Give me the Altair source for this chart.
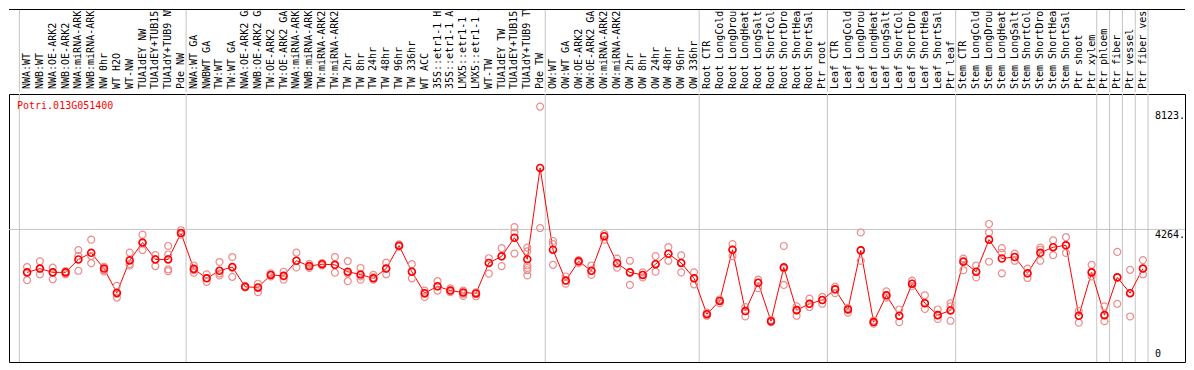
import altair as alt
import pandas as pd

gene = "Potri.013G051400"

categories = [
    "NWA:WT", "NWB:WT", "NWA:OE-ARK2", "NWB:OE-ARK2", "NWA:miRNA-ARK2", "NWB:miRNA-ARK2",
    "NW 0hr", "WT H2O", "WT-NW", "TUA1dEY NW", "TUA1dEY+TUB15 NW", "TUA1dY+TUB9 NW", "Pde NW",
    "NWA:WT GA", "NWBWT GA", "TW:WT", "TW:WT GA", "NWA:OE-ARK2 GA", "NWB:OE-ARK2 GA",
    "TW:OE-ARK2", "TW:OE-ARK2 GA", "NWA:miRNA-ARK2", "NWB:miRNA-ARK2", "TW:miRNA-ARK2",
    "TW:miRNA-ARK2", "TW 2hr", "TW 8hr", "TW 24hr", "TW 48hr", "TW 96hr", "TW 336hr",
    "WT ACC", "35S::etr1-1 H2O", "35S::etr1-1 ACC", "LMX5::etr1-1 H2O", "LMX5::etr1-1 ACC",
    "WT-TW", "TUA1dEY TW", "TUA1dEY+TUB15 TW", "TUA1dY+TUB9 TW", "Pde TW",
    "OW:WT", "OW:WT GA", "OW:OE-ARK2", "OW:OE-ARK2 GA", "OW:miRNA-ARK2", "OW:miRNA-ARK2",
    "OW 2hr", "OW 8hr", "OW 24hr", "OW 48hr", "OW 96hr", "OW 336hr",
    "Root CTR", "Root LongCold", "Root LongDrought", "Root LongHeat", "Root LongSalt",
    "Root ShortCold", "Root ShortDrought", "Root ShortHeat", "Root ShortSalt", "Ptr root",
    "Leaf CTR", "Leaf LongCold", "Leaf LongDrought", "Leaf LongHeat", "Leaf LongSalt",
    "Leaf ShortCold", "Leaf ShortDrought", "Leaf ShortHeat", "Leaf ShortSalt", "Ptr leaf",
    "Stem CTR", "Stem LongCold", "Stem LongDrought", "Stem LongHeat", "Stem LongSalt",
    "Stem ShortCold", "Stem ShortDrought", "Stem ShortHeat", "Stem ShortSalt", "Ptr shoot",
    "Ptr xylem", "Ptr phloem", "Ptr fiber", "Ptr vessel", "Ptr fiber vessel",
]

means = [
    2873, 2995, 2873, 2873, 3291, 3505, 2995, 2209, 3261, 3841, 3291, 3291, 4147,
    2986, 2680, 2925, 3047, 2405, 2384, 2790, 2760, 3249, 3077, 3138, 3117, 2894,
    2802, 2680, 2995, 3738, 2894, 2200, 2423, 2283, 2222, 2191, 3178, 3392, 3994,
    3300, 6256,
    3606, 2607, 3230, 2925, 4043, 3169, 2873, 2790, 3138, 3475, 3178, 2680,
    1519, 1947, 3606, 1620, 2536, 1293, 3035, 1650, 1855, 1977,
    2323, 1672, 3585, 1262, 2130, 1467, 2506, 1873, 1488, 1641,
    3218, 2894, 3933, 3322, 3371, 2842, 3505, 3689, 3750, 1467,
    2873, 1488, 2711, 2200, 2995,
]

replicates = [
    [3047, 2873, 2619], [3230, 2995, 2812], [3025, 2873, 2650], [2912, 2873, 2812],
    [3597, 3401, 2925], [3933, 3401, 3169], [3056, 2943, 2903], [2436, 2179, 2057],
    [3514, 3148, 3096], [4095, 3811, 3597], [3432, 3300, 3077],
    [3728, 3453, 3300, 2973, 2912], [4239, 4147, 4095],
    [3096, 2943, 2863], [2812, 2689, 2567], [3209, 2842, 2772], [3371, 3016, 2729],
    [2436, 2405, 2384], [2506, 2362, 2231], [2842, 2790, 2741], [2894, 2741, 2637],
    [3514, 3249, 3035], [3148, 3077, 3016], [3178, 3138, 3096], [3371, 3117, 2863],
    [3239, 2842, 2588], [3016, 2741, 2637], [2790, 2711, 2637], [3187, 2995, 2812],
    [3780, 3707], [3138, 2894, 2680], [2283, 2179, 2078], [2588, 2423, 2283],
    [2353, 2283, 2231], [2283, 2179, 2109], [2231, 2179, 2099], [3331, 3178, 2833],
    [3658, 3392, 3077], [4340, 4165, 3994, 3484],
    [3676, 3554, 3096, 3016, 2943, 2772], [8242, 4309],
    [3890, 3789, 3117], [2741, 2607, 2506], [3270, 3230, 3178], [3096, 2925, 2790],
    [4116, 4043, 3933], [3322, 3169, 3025], [3249, 2873, 2466], [2873, 2790, 2711],
    [3401, 3138, 2894], [3689, 3475, 3249], [3423, 3178, 2873], [2873, 2680, 2485],
    [1568, 1519, 1467], [1996, 1947, 1873], [3789, 3606, 3401], [1751, 1620, 1445],
    [2637, 2536, 2362], [1335, 1293, 1262], [3728, 2995, 2466], [1772, 1650, 1467],
    [2026, 1855, 1751], [2078, 1977, 1855],
    [2405, 2323, 2200], [1721, 1672, 1568], [4165, 3585, 3249], [1314, 1262, 1213],
    [2261, 2130, 2057], [1672, 1467, 1262], [2607, 2506, 2436], [2130, 1873, 1690],
    [1672, 1488, 1366], [1873, 1772, 1305],
    [3322, 3249, 2943], [3096, 2894, 2711], [4440, 4165, 3218], [3658, 3505, 2842],
    [3484, 3371, 3249], [2995, 2842, 2689], [3676, 3606, 3249], [3912, 3689, 3432],
    [4013, 3750, 3505], [1620, 1467, 1244],
    [3117, 2873, 2741], [1772, 1488, 1293], [3536, 2711, 1855], [2955, 2200, 1445],
    [3270, 2995, 2812],
]

# group boundaries: a separator is drawn after these category numbers
separators_after = [0, 13, 41, 53, 63, 73, 84, 85, 86, 87, 88]
grid_values = [4264]
axis_top_labels = [4264, 8123]
axis_bottom_labels = [0]

W = 1176
H_LAB = 83
H_PLOT = 268
XDOM = [-0.41, 91.28]
YDOM = [-30, 8650]
FONT = "DejaVu Sans Mono"

df_mean = pd.DataFrame({"idx": list(range(1, len(categories) + 1)),
                        "cat": categories, "value": means})
rep_rows = [(i + 1, v) for i, reps in enumerate(replicates) for v in reps]
df_rep = pd.DataFrame(rep_rows, columns=["idx", "value"])
df_sep = pd.DataFrame({"idx": [s + 0.4 for s in separators_after]})
df_grid = pd.DataFrame({"value": grid_values})
df_ax_top = pd.DataFrame({"value": axis_top_labels,
                          "label": [f"{v}." for v in axis_top_labels]})
df_ax_bot = pd.DataFrame({"value": axis_bottom_labels,
                          "label": [str(v) for v in axis_bottom_labels]})
one = pd.DataFrame({"a": [0]})

xs = alt.Scale(domain=XDOM, nice=False, zero=False)
ys = alt.Scale(domain=YDOM, nice=False, zero=False)
X = alt.X("idx:Q", scale=xs, axis=None)
Y = alt.Y("value:Q", scale=ys, axis=None)

# ---- top label panel
sep_top = alt.Chart(df_sep).mark_rule(color="#c4c4c4", strokeWidth=1).encode(x=X)
labels = alt.Chart(df_mean).mark_text(
    angle=270, align="left", baseline="middle", font=FONT, fontSize=10,
    color="black", clip=True
).encode(x=X, y=alt.value(H_LAB - 3), text="cat:N")
top_line = alt.Chart(one).mark_rule(color="black", strokeWidth=1).encode(
    x=alt.value(0), x2=alt.value(W), y=alt.value(0.5))
top_panel = alt.layer(sep_top, labels, top_line).properties(
    width=W, height=H_LAB, view=alt.ViewBackground(stroke=None))

# ---- plot panel
grid = alt.Chart(df_grid).mark_rule(color="#c4c4c4", strokeWidth=1).encode(y=Y)
sep_bot = alt.Chart(df_sep).mark_rule(color="#c4c4c4", strokeWidth=1).encode(x=X)
line = alt.Chart(df_mean).mark_line(color="#ff0000", strokeWidth=1).encode(x=X, y=Y)
reps = alt.Chart(df_rep).mark_point(
    shape="circle", filled=False, color="#ec8c8c", size=48, strokeWidth=1.2, opacity=1
).encode(x=X, y=Y)
pts = alt.Chart(df_mean).mark_point(
    shape="circle", filled=False, color="#ff0000", size=48, strokeWidth=1.6, opacity=1
).encode(x=X, y=Y)
title = alt.Chart(one).mark_text(
    text=gene, color="#ff0000", font=FONT, fontSize=10, align="left", baseline="middle"
).encode(x=alt.value(8), y=alt.value(12))
ax_top = alt.Chart(df_ax_top).mark_text(
    font=FONT, fontSize=10, align="left", baseline="top", color="black", dy=1
).encode(x=alt.value(W - 30), y=Y, text="label:N")
ax_bot = alt.Chart(df_ax_bot).mark_text(
    font=FONT, fontSize=10, align="left", baseline="bottom", color="black", dy=-2
).encode(x=alt.value(W - 30), y=Y, text="label:N")

plot_panel = alt.layer(grid, sep_bot, line, reps, pts, title, ax_top, ax_bot).properties(
    width=W, height=H_PLOT, view=alt.ViewBackground(stroke="black", strokeWidth=1))

chart = alt.vconcat(top_panel, plot_panel, spacing=0).properties(
    padding=0, background="white"
).configure_view(stroke=None)

chart.save("out.html", embed_options={"renderer": "svg", "actions": False})
